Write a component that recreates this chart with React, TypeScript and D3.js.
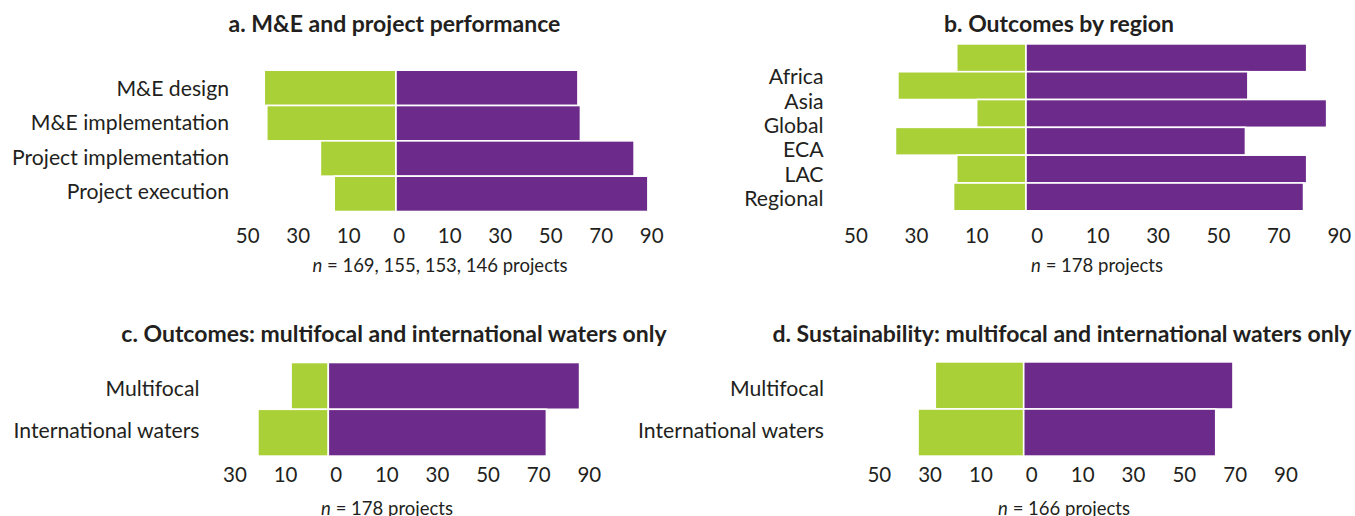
import React from "react";
import * as d3 from "d3";

// ---------- data ----------
const catsA = ["M&E design", "M&E implementation", "Project implementation", "Project execution"];
const unsatA = [42.0, 41.2, 24.1, 19.7];
const satA = [58.0, 58.8, 75.9, 80.3];

const catsB = ["Africa", "Asia", "Global", "ECA", "LAC", "Regional"];
const unsatB = [19.8, 36.6, 14.1, 37.3, 19.8, 20.7];
const satB = [80.2, 63.4, 85.9, 62.7, 80.2, 79.3];

const catsC = ["Multifocal", "International waters"];
const unsatC = [12.9, 24.4];
const satC = [87.1, 75.6];

const catsD = ["Multifocal", "International waters"];
const unsatD = [29.7, 35.5];
const satD = [70.3, 64.5];

const ticks9 = ["50", "30", "10", "0", "10", "30", "50", "70", "90"];
const ticks8 = ["30", "10", "0", "10", "30", "50", "70", "90"];

const titles = [
  "a. M&E and project performance",
  "b. Outcomes by region",
  "c. Outcomes: multifocal and international waters only",
  "d. Sustainability: multifocal and international waters only",
];
const notes = ["169, 155, 153, 146 projects", "178 projects", "178 projects", "166 projects"];

// ---------- styles ----------
const GREEN = "#aad038";
const PURPLE = "#6c2a8a";
const TEXT = "#231f20";
const FONT = "Lato, 'Open Sans', sans-serif";

type PanelProps = {
  cats: string[];
  unsat: number[];
  sat: number[];
  ticks: string[];
  title: string;
  note: string;
  layout: {
    split: number; k: number; barTop: number; barBottom: number;
    labelX: number; labelTop: number; labelBottom: number;
    tickFirst: number; tickLast: number; tickY: number;
    titleX: number; titleY: number; noteX: number; noteY: number;
  };
};

function Panel({ cats, unsat, sat, ticks, title, note, layout: L }: PanelProps) {
  const x = d3.scaleLinear().domain([0, 100]).range([L.split, L.split + 100 * L.k]);
  const y = d3.scaleBand<string>().domain(cats).range([L.barTop, L.barBottom]).paddingInner(0);
  const yl = d3.scalePoint<string>().domain(cats).range([L.labelTop, L.labelBottom]);
  const tx = d3.scalePoint<number>().domain(ticks.map((_, i) => i)).range([L.tickFirst, L.tickLast]);
  return (
    <g>
      <text x={L.titleX} y={L.titleY} textAnchor="middle" fontSize={23} fontWeight={700} fill={TEXT}>{title}</text>
      {cats.map((c, i) => (
        <g key={c}>
          <rect x={x(-unsat[i])} y={y(c)} width={x(0) - x(-unsat[i])} height={y.bandwidth()} fill={GREEN} stroke="#fff" strokeWidth={1.6} />
          <rect x={x(0)} y={y(c)} width={x(sat[i]) - x(0)} height={y.bandwidth()} fill={PURPLE} stroke="#fff" strokeWidth={1.6} />
          <text x={L.labelX} y={yl(c)} textAnchor="end" fontSize={21.2} fill={TEXT}>{c}</text>
        </g>
      ))}
      {ticks.map((t, i) => (
        <text key={i} x={tx(i)} y={L.tickY} textAnchor="middle" fontSize={20.5} fill={TEXT}>{t}</text>
      ))}
      <text x={L.noteX} y={L.noteY} textAnchor="middle" fontSize={18.5} fill={TEXT}>
        <tspan fontStyle="italic">n</tspan> = {note}
      </text>
    </g>
  );
}

export default function App() {
  return (
    <svg width={1355} height={516} style={{ position: "absolute", left: 0, top: 0, background: "#fff", fontFamily: FONT }}>
      <Panel cats={catsA} unsat={unsatA} sat={satA} ticks={ticks9} title={titles[0]} note={notes[0]}
        layout={{ split: 396, k: 3.137, barTop: 70.2, barBottom: 211.5, labelX: 229, labelTop: 96, labelBottom: 199.3,
          tickFirst: 247.7, tickLast: 651.7, tickY: 243, titleX: 394.5, titleY: 32, noteX: 440, noteY: 272 }} />
      <Panel cats={catsB} unsat={unsatB} sat={satB} ticks={ticks9} title={titles[1]} note={notes[1]}
        layout={{ split: 1026, k: 3.5, barTop: 43.9, barBottom: 210.8, labelX: 823.5, labelTop: 84.3, labelBottom: 206,
          tickFirst: 856, tickLast: 1339.3, tickY: 242.5, titleX: 1059, titleY: 32, noteX: 1097, noteY: 272 }} />
      <Panel cats={catsC} unsat={unsatC} sat={satC} ticks={ticks8} title={titles[2]} note={notes[2]}
        layout={{ split: 328.3, k: 2.885, barTop: 362.5, barBottom: 456.1, labelX: 199.5, labelTop: 395.7, labelBottom: 438,
          tickFirst: 235, tickLast: 589.3, tickY: 482, titleX: 394, titleY: 342, noteX: 387, noteY: 515 }} />
      <Panel cats={catsD} unsat={unsatD} sat={satD} ticks={ticks9} title={titles[3]} note={notes[3]}
        layout={{ split: 1023.7, k: 2.977, barTop: 361.9, barBottom: 456.1, labelX: 824, labelTop: 395.7, labelBottom: 438,
          tickFirst: 879.3, tickLast: 1286, tickY: 482, titleX: 1062, titleY: 342, noteX: 1064, noteY: 515 }} />
    </svg>
  );
}
